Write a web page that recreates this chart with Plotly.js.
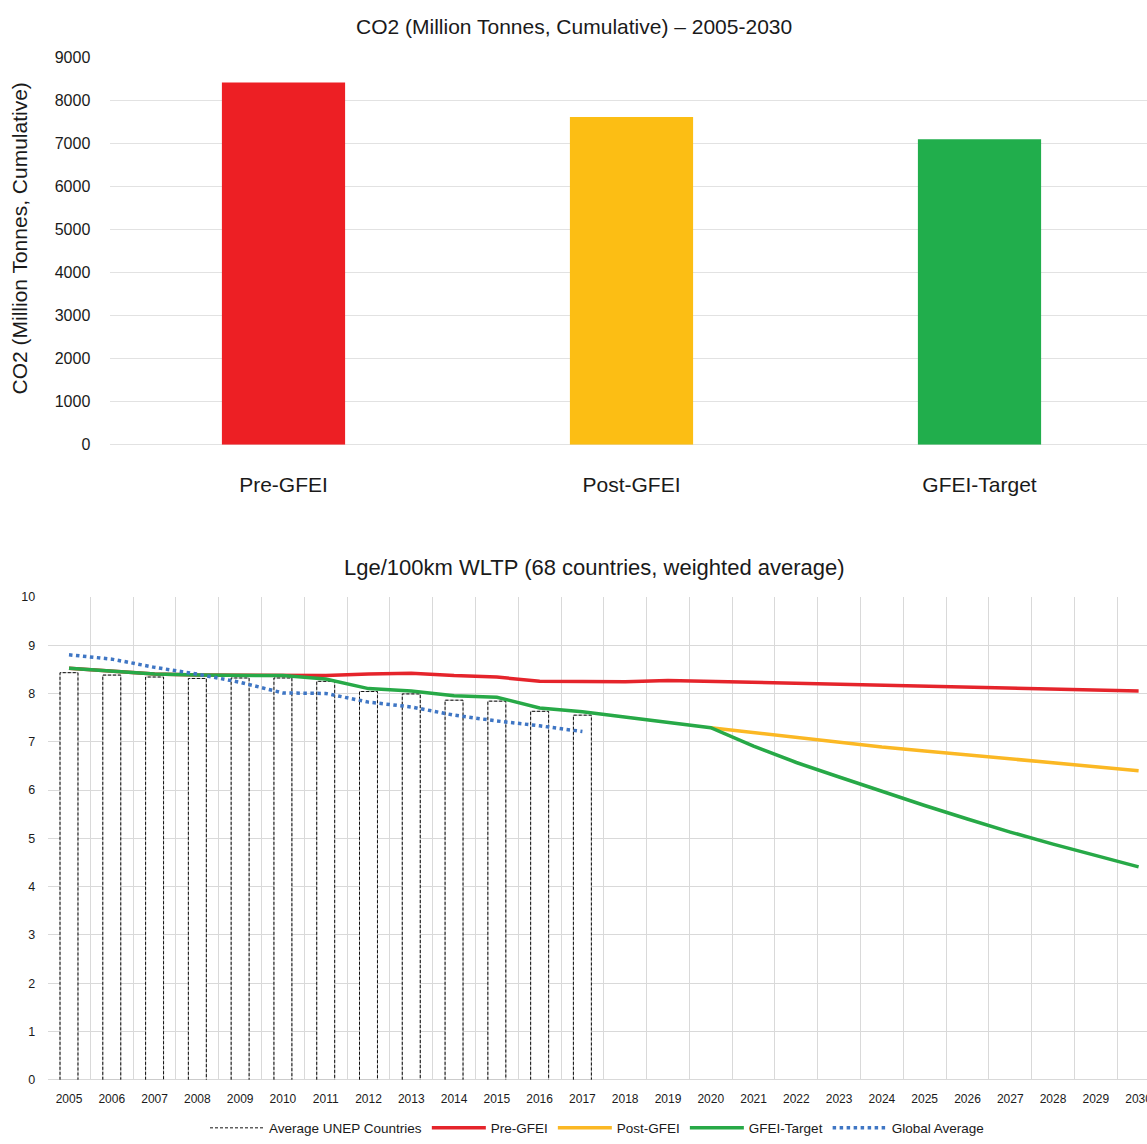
<!DOCTYPE html>
<html>
<head>
<meta charset="utf-8">
<script src="https://cdn.plot.ly/plotly-3.0.1.min.js"></script>
<style>
  html, body { margin: 0; padding: 0; background: #fff; overflow: hidden; }
  #chart { width: 1170px; height: 1144px; }
</style>
</head>
<body>
<div id="chart"></div>
<script>
// Cumulative CO2 2005-2030 by scenario (million tonnes)
const scenarios = ['Pre-GFEI', 'Post-GFEI', 'GFEI-Target'];
const co2Cumulative = [8420, 7620, 7100];
const scenarioColors = ['#ED1F24', '#FCBE14', '#21AE4C'];

// Fuel economy, Lge/100km WLTP
const years = [2005, 2006, 2007, 2008, 2009, 2010, 2011, 2012, 2013, 2014, 2015, 2016, 2017,
               2018, 2019, 2020, 2021, 2022, 2023, 2024, 2025, 2026, 2027, 2028, 2029, 2030];
const unepYears = [2005, 2006, 2007, 2008, 2009, 2010, 2011, 2012, 2013, 2014, 2015, 2016, 2017];
const unepAverage = [8.43, 8.38, 8.34, 8.31, 8.32, 8.32, 8.25, 8.04, 7.99, 7.86, 7.84, 7.63, 7.55];
const preGfei = [8.52, 8.46, 8.40, 8.38, 8.38, 8.37, 8.37, 8.40, 8.42, 8.37, 8.34, 8.25, 8.25,
                 8.24, 8.27, 8.25, 8.23, 8.22, 8.20, 8.18, 8.16, 8.14, 8.12, 8.10, 8.08, 8.05];
const postGfei = [null, null, null, null, null, null, null, null, null, null, null, null, null,
                  null, null, 7.29, 7.19, 7.08, 6.98, 6.89, 6.81, 6.73, 6.64, 6.56, 6.48, 6.40];
const gfeiTarget = [8.52, 8.46, 8.40, 8.38, 8.38, 8.37, 8.30, 8.10, 8.05, 7.95, 7.92, 7.70, 7.62,
                    7.51, 7.40, 7.29, 6.91, 6.57, 6.27, 5.97, 5.68, 5.40, 5.13, 4.88, 4.64, 4.41];
const globalAverage = [8.80, 8.71, 8.54, 8.40, 8.23, 8.01, 8.00, 7.82, 7.72, 7.55, 7.43, 7.33, 7.21];

const W = 1170, H = 1144;
const FONT = 'Liberation Sans, Arial, sans-serif';
const TXT = '#1a1a1a';
const px = v => v / W;           // horizontal pixel -> paper
const py = v => 1 - v / H;       // vertical pixel (from top) -> paper

const BAR_W = 0.42;
const outlineX = [], outlineY = [];
unepYears.forEach((yr, i) => {
  const l = yr - BAR_W / 2, r = yr + BAR_W / 2, v = unepAverage[i];
  outlineX.push(l, l, r, r, null);
  outlineY.push(0, v, v, 0, null);
});

const traces = [
  {
    type: 'bar', x: scenarios, y: co2Cumulative, xaxis: 'x', yaxis: 'y',
    marker: { color: scenarioColors, line: { width: 0 } },
    showlegend: false, hoverinfo: 'x+y'
  },
  {
    type: 'bar', x: unepYears, y: unepAverage, xaxis: 'x2', yaxis: 'y2',
    width: BAR_W, name: 'Average UNEP Countries', showlegend: false,
    marker: { color: '#ffffff', line: { color: 'rgba(0,0,0,0.3)', width: 1 } }
  },
  {
    type: 'scatter', mode: 'lines', x: outlineX, y: outlineY, xaxis: 'x2', yaxis: 'y2',
    name: 'Average UNEP Countries',
    line: { color: '#111', width: 1, dash: '3px,2px' },
    hoverinfo: 'skip', connectgaps: false
  },
  {
    type: 'scatter', mode: 'lines', x: years, y: preGfei, xaxis: 'x2', yaxis: 'y2',
    name: 'Pre-GFEI', line: { color: '#E5242B', width: 3.5 }
  },
  {
    type: 'scatter', mode: 'lines', x: years, y: postGfei, xaxis: 'x2', yaxis: 'y2',
    name: 'Post-GFEI', line: { color: '#FBB824', width: 3.5 }
  },
  {
    type: 'scatter', mode: 'lines', x: years, y: gfeiTarget, xaxis: 'x2', yaxis: 'y2',
    name: 'GFEI-Target', line: { color: '#27A947', width: 3.5 }
  },
  {
    type: 'scatter', mode: 'lines', x: unepYears, y: globalAverage, xaxis: 'x2', yaxis: 'y2',
    name: 'Global Average', line: { color: '#3F76C4', width: 3.5, dash: 'dot' }
  }
];

const layout = {
  width: W, height: H,
  margin: { l: 0, r: 0, t: 0, b: 0 },
  paper_bgcolor: '#ffffff', plot_bgcolor: '#ffffff',
  font: { family: FONT, color: TXT },
  bargap: 0.646,
  showlegend: true,
  legend: {
    orientation: 'h', x: px(597), xanchor: 'center', y: py(1135), yanchor: 'middle',
    font: { family: FONT, size: 13.5, color: TXT }, traceorder: 'normal',
    itemwidth: 54
  },
  xaxis: {
    domain: [px(109.5), px(1153.5)], anchor: 'y', type: 'category',
    showgrid: false, zeroline: false, showline: false,
    ticks: 'outside', ticklen: 21, tickcolor: 'rgba(0,0,0,0)',
    tickfont: { family: FONT, size: 21, color: TXT }
  },
  yaxis: {
    domain: [py(447.5), py(58)], anchor: 'x', range: [0, 9000], dtick: 1000,
    showgrid: true, gridcolor: '#e2e2e2', gridwidth: 1, zeroline: true, zerolinecolor: '#e2e2e2',
    ticks: 'outside', ticklen: 15, tickcolor: 'rgba(0,0,0,0)',
    tickfont: { family: FONT, size: 16, color: TXT }
  },
  xaxis2: {
    domain: [px(47.6), px(1160)], anchor: 'y2', type: 'linear', range: [2004.5, 2030.5],
    tickmode: 'array', tickvals: years, ticktext: years.map(String),
    showgrid: false, zeroline: false, showline: false,
    ticks: 'outside', ticklen: 8, tickcolor: 'rgba(0,0,0,0)',
    tickfont: { family: FONT, size: 12, color: TXT },
    minor: { tickmode: 'linear', tick0: 2004.5, dtick: 1, showgrid: true, gridcolor: '#d9d9d9', gridwidth: 1, ticks: '' }
  },
  yaxis2: {
    domain: [py(1086.5), py(600.5)], anchor: 'x2', range: [0, 10], dtick: 1,
    showgrid: true, gridcolor: '#d9d9d9', gridwidth: 1, zeroline: true, zerolinecolor: '#d9d9d9',
    ticks: 'outside', ticklen: 9, tickcolor: 'rgba(0,0,0,0)',
    tickfont: { family: FONT, size: 12.5, color: TXT }
  },
  annotations: [
    {
      text: 'CO2 (Million Tonnes, Cumulative) – 2005-2030', xref: 'paper', yref: 'paper',
      x: px(573.5), y: py(27), xanchor: 'center', yanchor: 'middle', showarrow: false,
      font: { family: FONT, size: 21, color: TXT }
    },
    {
      text: 'CO2 (Million Tonnes, Cumulative)', xref: 'paper', yref: 'paper', textangle: -90,
      x: px(20), y: py(240), xanchor: 'center', yanchor: 'middle', showarrow: false,
      font: { family: FONT, size: 21, color: TXT }
    },
    {
      text: 'Lge/100km WLTP (68 countries, weighted average)', xref: 'paper', yref: 'paper',
      x: px(594), y: py(571), xanchor: 'center', yanchor: 'middle', showarrow: false,
      font: { family: FONT, size: 22, color: TXT }
    }
  ]
};

Plotly.newPlot('chart', traces, layout, { staticPlot: true, displayModeBar: false });
</script>
</body>
</html>
